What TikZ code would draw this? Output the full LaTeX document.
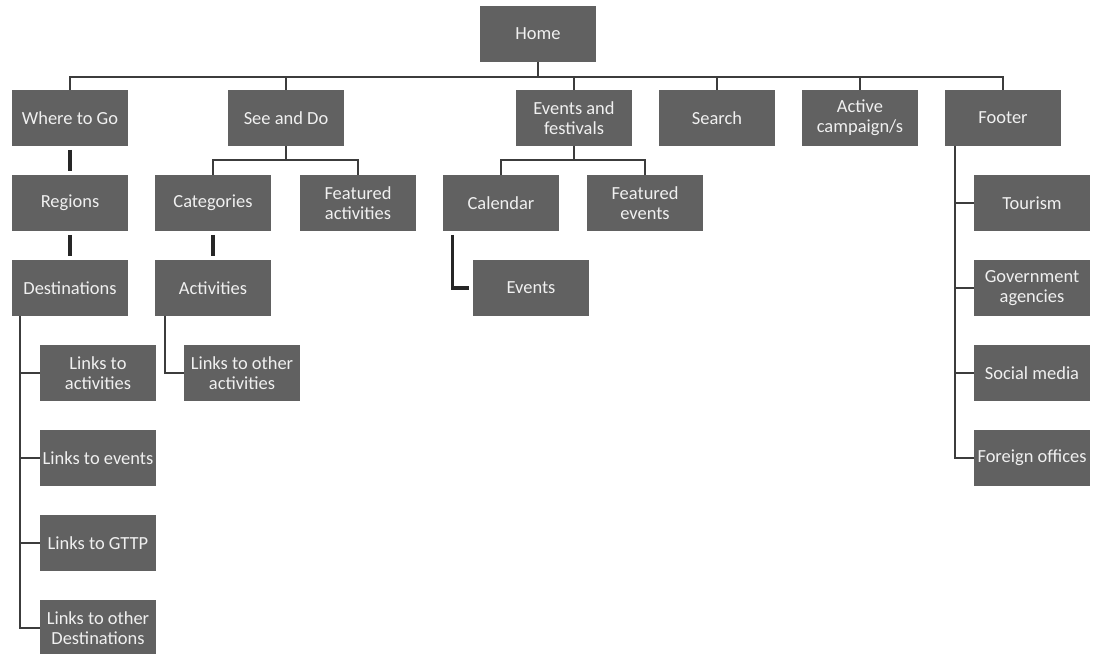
\documentclass[tikz,border=0pt]{standalone}
\usepackage{fontspec}
\setmainfont{Carlito}
\usepackage{tikz}
\usetikzlibrary{positioning, calc}

\definecolor{boxgray}{HTML}{616161}
\definecolor{linegray}{HTML}{3C3C3C}

\begin{document}
\begin{tikzpicture}[node distance=1.7cm, on grid,
        box/.style={fill=boxgray, text=white!94!black, minimum width=2.32cm, minimum height=1.12cm,
                inner sep=0pt, align=center, font=\fontsize{10.5}{11.2}\selectfont},
        link/.style={draw=linegray, line width=1pt},
        heavy/.style={draw=black!85, line width=1.8pt, shorten <=2pt, shorten >=2pt}]
                \useasboundingbox (0,0) rectangle (21.88,-13.08);
                \node[box] (home) at (10.76,-0.68) {Home};
                \node[box] (where) at (1.4,-2.36) {Where to Go};
                \node[box] (seedo) [right=4.32cm of where] {See and Do};
                \node[box] (festivals) [right=5.76cm of seedo] {Events and\\festivals};
                \node[box] (search) [right=2.86cm of festivals] {Search};
                \node[box] (campaign) [right=2.86cm of search] {Active\\campaign/s};
                \node[box] (footer) [right=2.86cm of campaign] {Footer};
                \node[box] (regions) [below=of where] {Regions};
                \node[box] (dest) [below=of regions] {Destinations};
                \node[box] (lnkact) [below right=1.7cm and 0.56cm of dest] {Links to\\activities};
                \node[box] (lnkev) [below=of lnkact] {Links to events};
                \node[box] (lnkgttp) [below=of lnkev] {Links to GTTP};
                \node[box] (lnkdest) [below=of lnkgttp] {Links to other\\Destinations};
                \node[box] (categ) [below left=1.7cm and 1.46cm of seedo] {Categories};
                \node[box] (featact) [below right=1.7cm and 1.44cm of seedo] {Featured\\activities};
                \node[box] (activ) [below=of categ] {Activities};
                \node[box] (lnkother) [below right=1.7cm and 0.58cm of activ] {Links to other\\activities};
                \node[box] (calendar) [below left=1.7cm and 1.46cm of festivals] {Calendar};
                \node[box] (featev) [below right=1.7cm and 1.42cm of festivals] {Featured\\events};
                \node[box] (evts) [below right=1.7cm and 0.6cm of calendar] {Events};
                \node[box] (tourism) [below right=1.7cm and 0.58cm of footer] {Tourism};
                \node[box] (gov) [below=of tourism] {Government\\agencies};
                \node[box] (social) [below=of gov] {Social media};
                \node[box] (foreign) [below=of social] {Foreign offices};
                % top level
                \draw[link] (home.south) -- ++(0,-0.3) -| (where.north);
                \draw[link] (home.south) -- ++(0,-0.3) -| (seedo.north);
                \draw[link] (home.south) -- ++(0,-0.3) -| (festivals.north);
                \draw[link] (home.south) -- ++(0,-0.3) -| (search.north);
                \draw[link] (home.south) -- ++(0,-0.3) -| (campaign.north);
                \draw[link] (home.south) -- ++(0,-0.3) -| (footer.north);
                % second level
                \draw[heavy] (where) -- (regions);
                \draw[heavy] (regions) -- (dest);
                \draw[link] (seedo.south) -- ++(0,-0.28) -| (categ.north);
                \draw[link] (seedo.south) -- ++(0,-0.28) -| (featact.north);
                \draw[heavy] (categ) -- (activ);
                \draw[link] (festivals.south) -- ++(0,-0.28) -| (calendar.north);
                \draw[link] (festivals.south) -- ++(0,-0.28) -| (featev.north);
                \draw[heavy] ([xshift=0.2cm]calendar.south west) |- (evts.west);
                % side lists
                \draw[link] ([xshift=0.16cm]dest.south west) |- (lnkact.west);
                \draw[link] ([xshift=0.16cm]dest.south west) |- (lnkev.west);
                \draw[link] ([xshift=0.16cm]dest.south west) |- (lnkgttp.west);
                \draw[link] ([xshift=0.16cm]dest.south west) |- (lnkdest.west);
                \draw[link] ([xshift=0.2cm]activ.south west) |- (lnkother.west);
                \draw[link] ([xshift=0.2cm]footer.south west) |- (tourism.west);
                \draw[link] ([xshift=0.2cm]footer.south west) |- (gov.west);
                \draw[link] ([xshift=0.2cm]footer.south west) |- (social.west);
                \draw[link] ([xshift=0.2cm]footer.south west) |- (foreign.west);
        \end{tikzpicture}
\end{document}
